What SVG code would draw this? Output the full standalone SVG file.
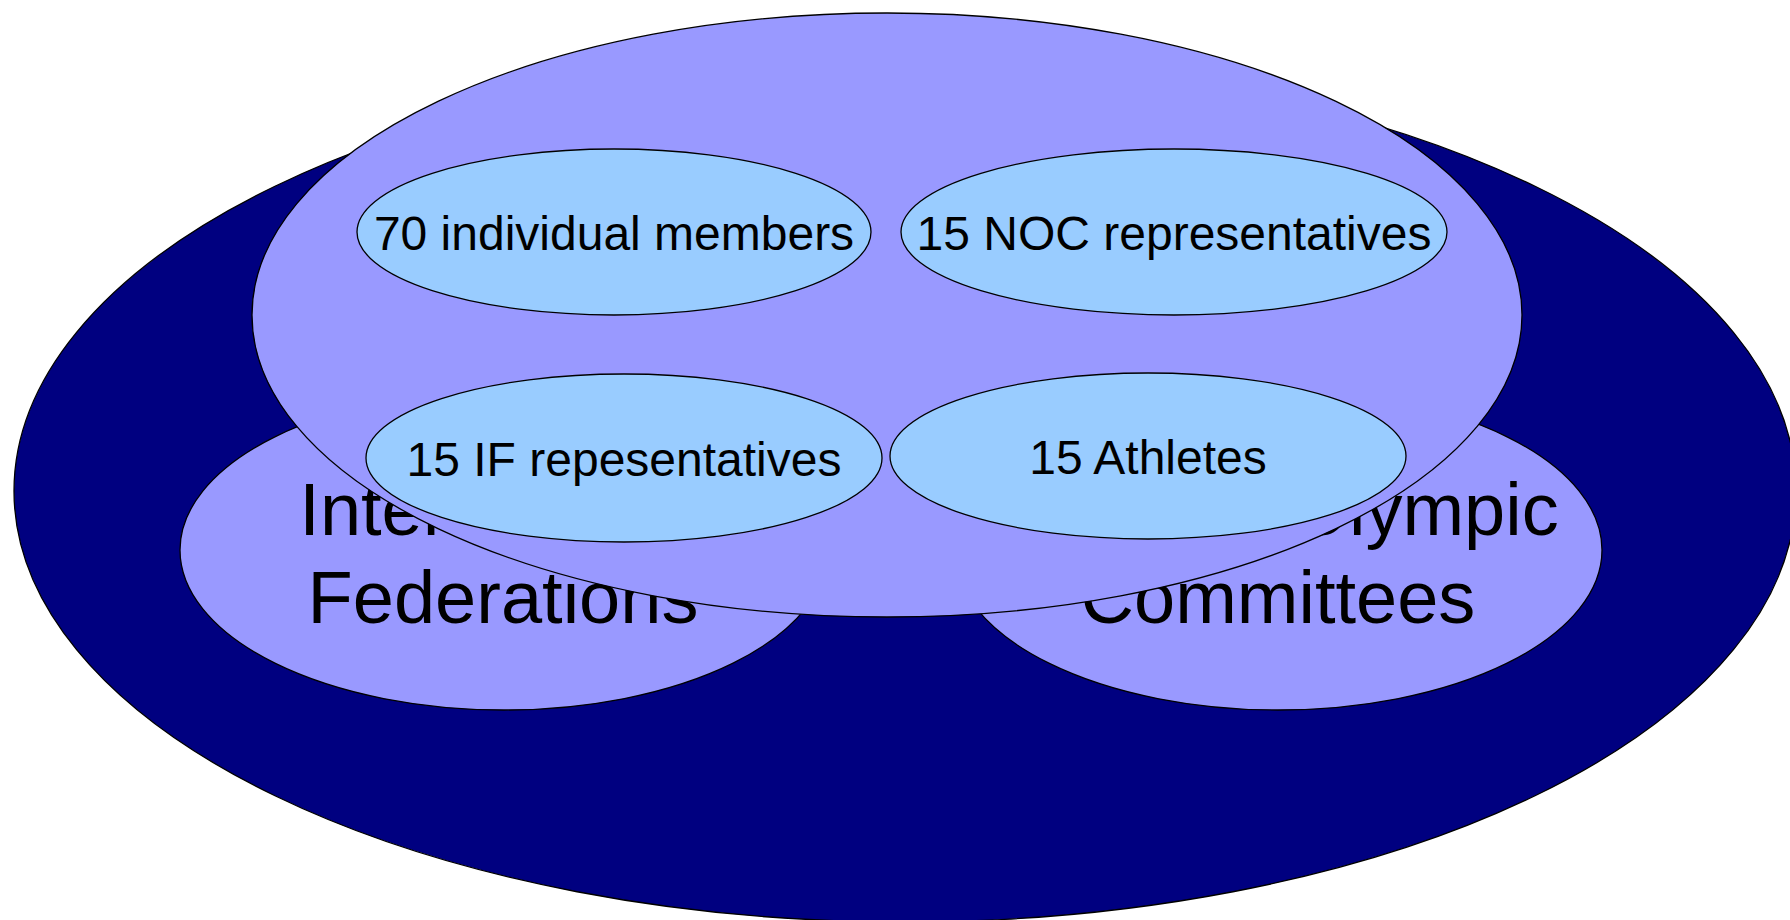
<svg xmlns="http://www.w3.org/2000/svg" width="1790" height="920" viewBox="0 0 1790 920">
<style>
  .sh { stroke: #000000; stroke-width: 1.3; }
  .navy { fill: #000080; }
  .lav { fill: #9999FF; }
  .sky { fill: #99CCFF; }
  .big { font-family: "Liberation Sans", Arial, sans-serif; font-size: 74px; fill: #000000; text-anchor: middle; }
  .small { font-family: "Liberation Sans", Arial, sans-serif; font-size: 48px; fill: #000000; text-anchor: middle; }
</style>
<rect width="1790" height="920" fill="#FFFFFF"/>
<g id="ioc-outer">
  <ellipse class="navy sh" cx="905" cy="491" rx="891" ry="431"/>
</g>
<g id="international-federations">
  <ellipse class="lav sh" cx="504" cy="550" rx="324" ry="160"/>
  <text class="big" x="503" y="535">International</text>
  <text class="big" x="503" y="623">Federations</text>
</g>
<g id="national-olympic-committees">
  <ellipse class="lav sh" cx="1278" cy="550" rx="324" ry="160"/>
  <text class="big" x="1279" y="535">National Olympic</text>
  <text class="big" x="1278" y="623">Committees</text>
</g>
<g id="ioc-members">
  <ellipse class="lav sh" cx="887" cy="315" rx="635" ry="302"/>
</g>
<g id="individual-members">
  <ellipse class="sky sh" cx="614" cy="232" rx="257" ry="83"/>
  <text class="small" x="614" y="250">70 individual members</text>
</g>
<g id="noc-representatives">
  <ellipse class="sky sh" cx="1174" cy="232" rx="273" ry="83"/>
  <text class="small" x="1174" y="250">15 NOC representatives</text>
</g>
<g id="if-representatives">
  <ellipse class="sky sh" cx="624" cy="458" rx="258" ry="84"/>
  <text class="small" x="624" y="476">15 IF repesentatives</text>
</g>
<g id="athletes">
  <ellipse class="sky sh" cx="1148" cy="456" rx="258" ry="83"/>
  <text class="small" x="1148" y="474">15 Athletes</text>
</g>
</svg>
